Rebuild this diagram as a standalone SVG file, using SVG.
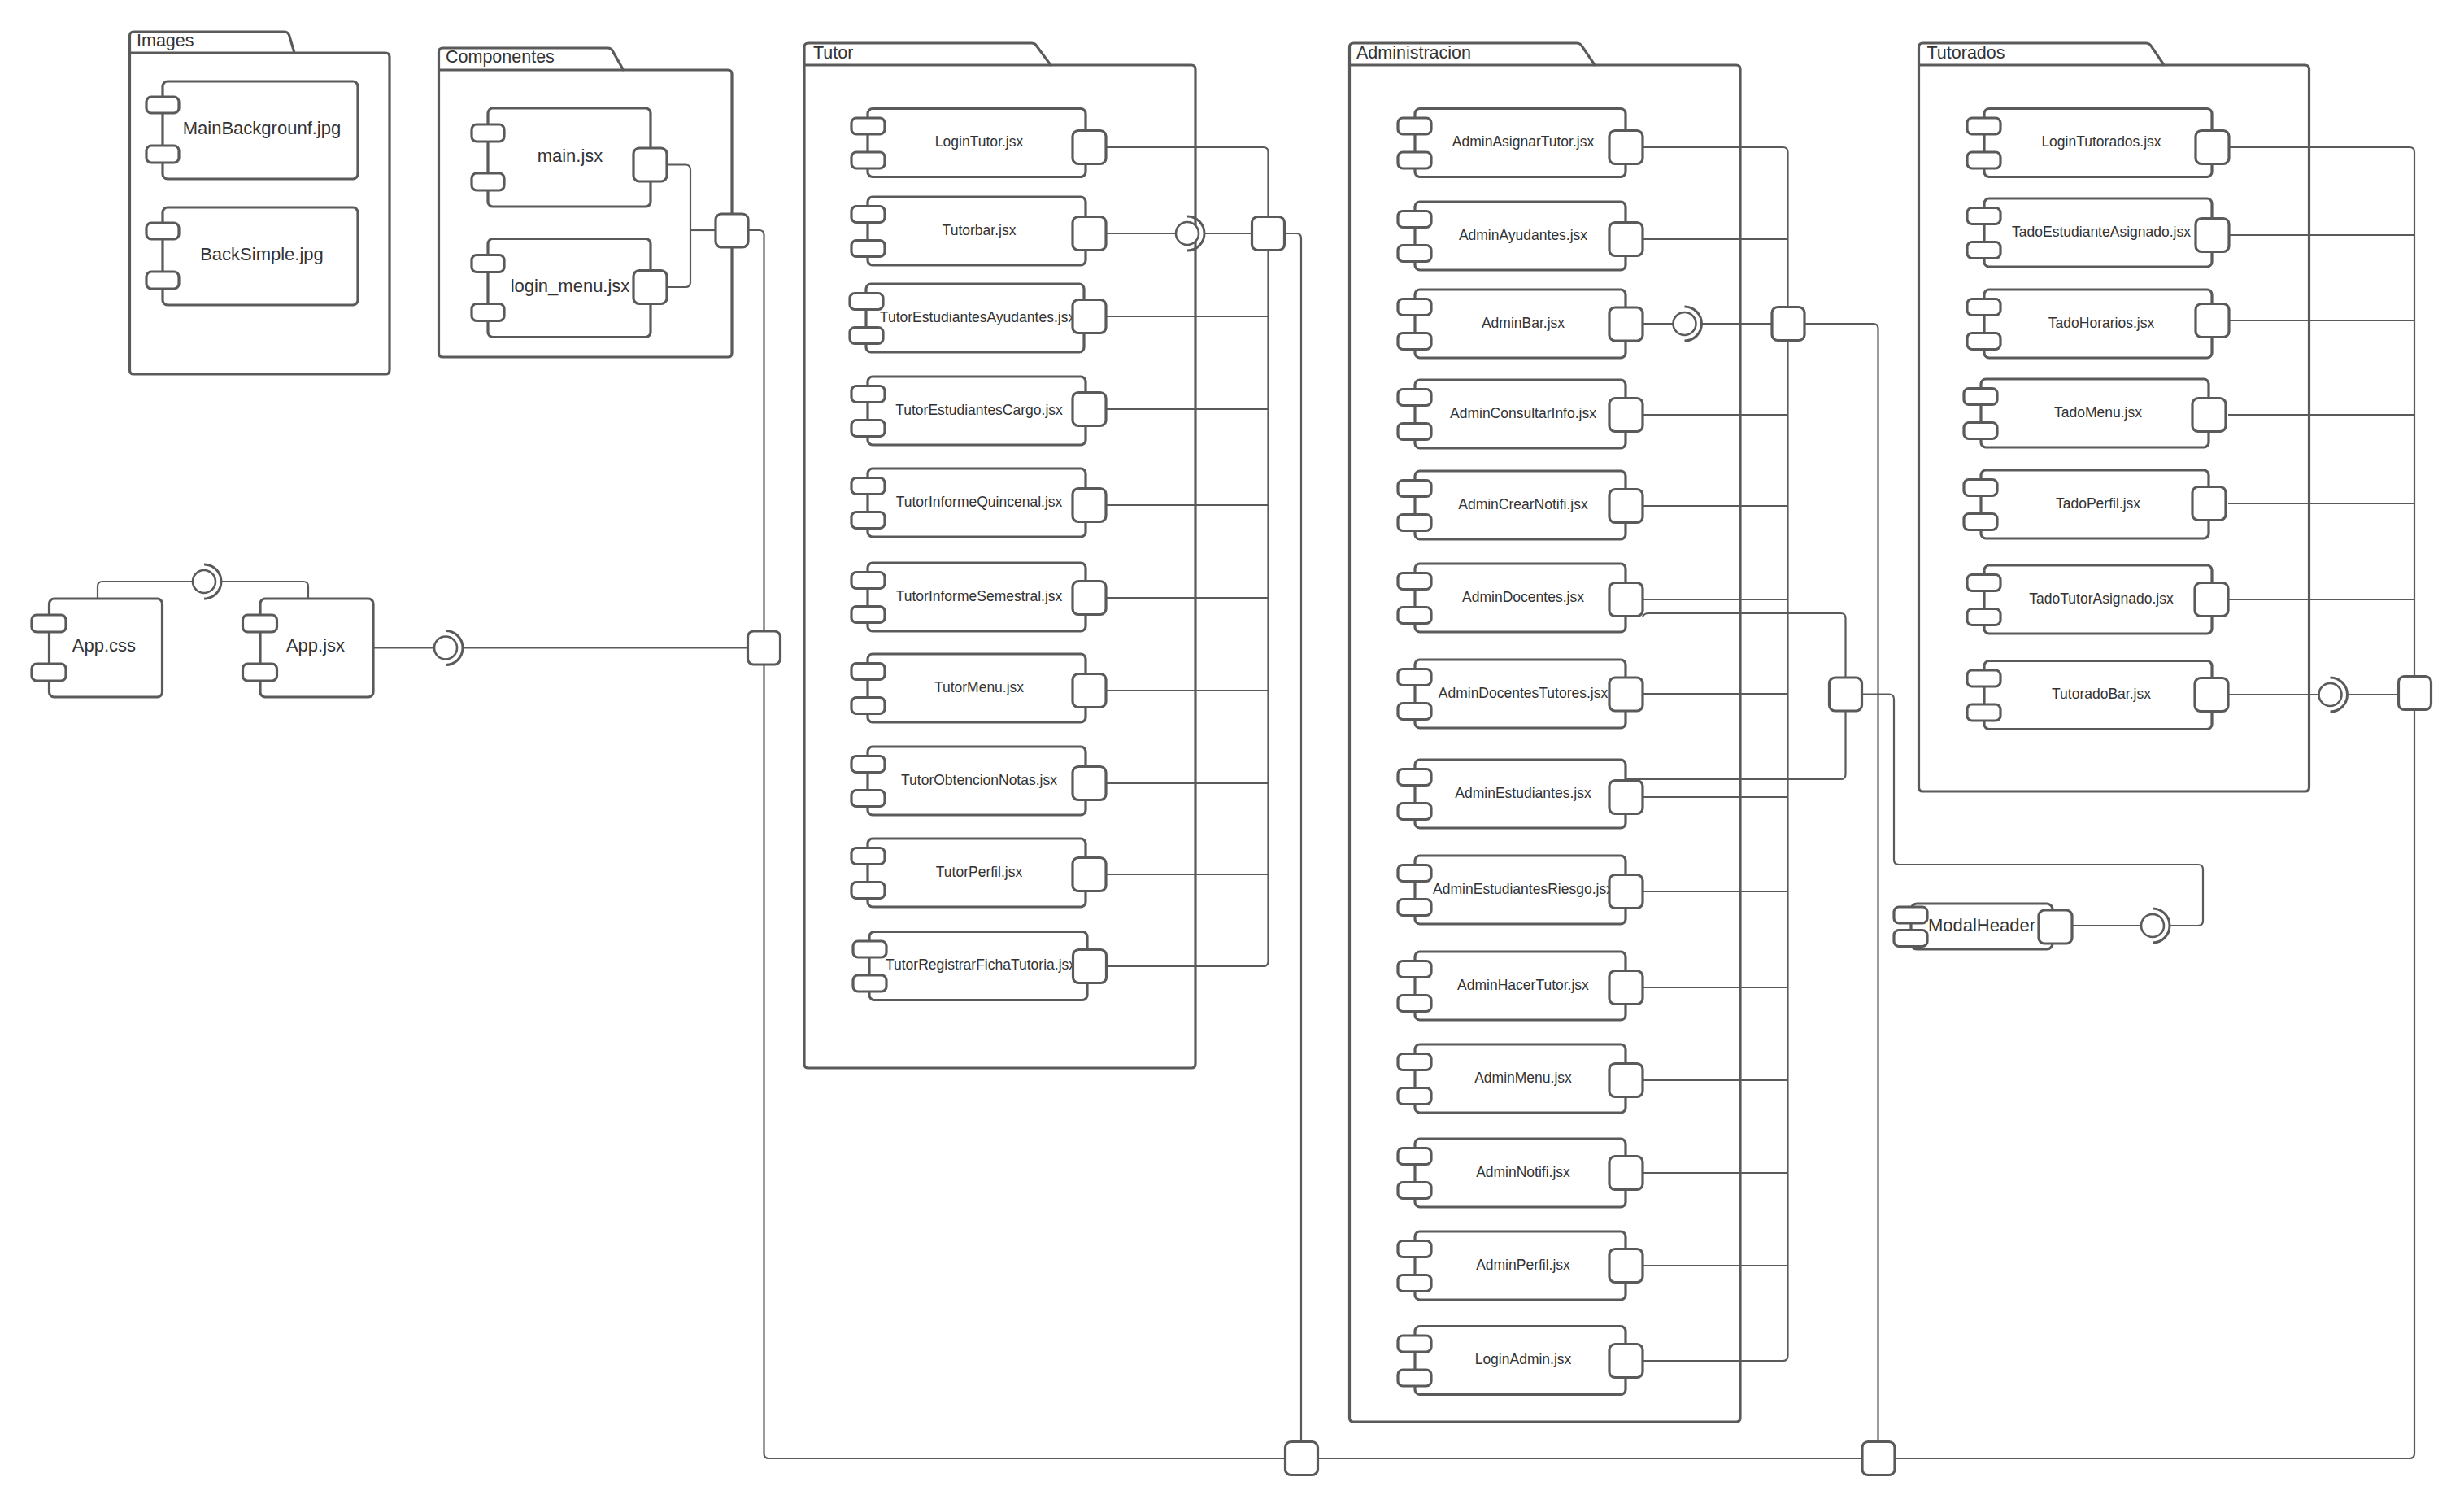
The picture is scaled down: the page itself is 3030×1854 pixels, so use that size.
<svg xmlns="http://www.w3.org/2000/svg" xmlns:xlink="http://www.w3.org/1999/xlink" width="3030" height="1854" viewBox="0 0 3030 1854">
<style>
.s{fill:#fff;stroke:#5a5a5a;stroke-width:3.2}
.c{fill:none;stroke:#5a5a5a;stroke-width:2.2}
.t{font-family:"Liberation Sans",Arial,sans-serif;fill:#333;text-anchor:middle}
.f17{font-size:17.5px}
.f22{font-size:22px}
.lbl{font-family:"Liberation Sans",Arial,sans-serif;fill:#333;font-size:21.5px}
</style>
<defs>
<!-- component bodies: origin at body left edge, vertical centre -->
<g id="bT" class="s"><rect x="0" y="-42" width="268" height="84" rx="6"/><rect x="-20" y="-30.5" width="41" height="20" rx="6"/><rect x="-20" y="11.5" width="41" height="20" rx="6"/></g>
<g id="bA" class="s"><rect x="0" y="-42" width="259" height="84" rx="6"/><rect x="-21" y="-30.5" width="41" height="20" rx="6"/><rect x="-21" y="11.5" width="41" height="20" rx="6"/></g>
<g id="bD" class="s"><rect x="0" y="-42" width="280" height="84" rx="6"/><rect x="-21" y="-30.5" width="41" height="20" rx="6"/><rect x="-21" y="11.5" width="41" height="20" rx="6"/></g>
<g id="bI" class="s"><rect x="0" y="-60" width="240" height="120" rx="6"/><rect x="-20" y="-41" width="40" height="20" rx="6"/><rect x="-20" y="19" width="40" height="21" rx="6"/></g>
<g id="bC" class="s"><rect x="0" y="-60.5" width="200" height="121" rx="6"/><rect x="-20" y="-40.5" width="40" height="21" rx="6"/><rect x="-20" y="19.5" width="40" height="21" rx="6"/></g>
<g id="bP" class="s"><rect x="0" y="-60.5" width="139" height="121" rx="6"/><rect x="-21.5" y="-40.5" width="42" height="21" rx="6"/><rect x="-21.5" y="19.5" width="42" height="21" rx="6"/></g>
<!-- port / hub square, origin at left edge, vertical centre -->
<rect id="pt" class="s" x="0" y="-20.5" width="41" height="41" rx="7"/>
<rect id="hb" class="s" x="0" y="-20.5" width="40" height="41" rx="7"/>
<!-- provided/required interface: ball + socket, origin at ball centre -->
<g id="ifc"><circle class="s" cx="0" cy="0" r="14" style="stroke-width:2.6"/><path class="c" d="M0,-21 A21,21 0 0 1 0,21" style="stroke-width:3"/></g>
</defs>

<g id="packages">
<g id="pkg-images"><path class="s" d="M159.5,455 V44 Q159.5,39 164.5,39 H349 Q354,39 355.5,43 L362,65 H474 Q479,65 479,70 V455 Q479,460 474,460 H164.5 Q159.5,460 159.5,455 Z"/><path class="c" style="stroke-width:3.2" d="M159.5,65 H362"/><text class="lbl" x="168" y="57">Images</text></g>
<g id="pkg-componentes"><path class="s" d="M539.5,434 V64 Q539.5,59 544.5,59 H747 Q752,59 753.5,63 L766.5,86 H895 Q900,86 900,91 V434 Q900,439 895,439 H544.5 Q539.5,439 539.5,434 Z"/><path class="c" style="stroke-width:3.2" d="M539.5,86 H766.5"/><text class="lbl" x="548" y="77">Componentes</text></g>
<g id="pkg-tutor"><path class="s" d="M989,1308 V58 Q989,53 994,53 H1268 Q1273,53 1275,57 L1292,80 H1465 Q1470,80 1470,85 V1308 Q1470,1313 1465,1313 H994 Q989,1313 989,1308 Z"/><path class="c" style="stroke-width:3.2" d="M989,80 H1292"/><text class="lbl" x="1000" y="71.5">Tutor</text></g>
<g id="pkg-admin"><path class="s" d="M1659.5,1743 V58 Q1659.5,53 1664.5,53 H1938.5 Q1943.5,53 1945.5,57 L1961,80 H2135 Q2140,80 2140,85 V1743 Q2140,1748 2135,1748 H1664.5 Q1659.5,1748 1659.5,1743 Z"/><path class="c" style="stroke-width:3.2" d="M1659.5,80 H1961"/><text class="lbl" x="1668" y="71.5">Administracion</text></g>
<g id="pkg-tutorados"><path class="s" d="M2359.5,968 V58 Q2359.5,53 2364.5,53 H2638.5 Q2643.5,53 2645.5,57 L2661,80 H2834.5 Q2839.5,80 2839.5,85 V968 Q2839.5,973 2834.5,973 H2364.5 Q2359.5,973 2359.5,968 Z"/><path class="c" style="stroke-width:3.2" d="M2359.5,80 H2661"/><text class="lbl" x="2369.5" y="71.5">Tutorados</text></g>
</g>

<g id="connectors" class="c">
<!-- Componentes -->
<path d="M820,202.5 H843 Q849,202.5 849,208.5 V347 Q849,353 843,353 H820"/>
<path d="M849,283 H880"/>
<!-- main backbone: left spine, bottom rail, Tutorados bus -->
<path d="M920,283 H933.5 Q939.5,283 939.5,289 V1787 Q939.5,1793 945.5,1793 H2963 Q2969,1793 2969,1787 V187 Q2969,181 2963,181 H2740"/>
<!-- App -->
<path d="M120,736 V721 Q120,715 126,715 H237"/>
<path d="M272,715 H373 Q379,715 379,721 V736"/>
<path d="M459,796.5 H534"/>
<path d="M569,796.5 H920"/>
<!-- Tutor bus -->
<path d="M1360,181 H1553.5 Q1559.5,181 1559.5,187 V1182 Q1559.5,1188 1553.5,1188 H1360"/>
<path d="M1360,389 H1559.5 M1360,503 H1559.5 M1360,621 H1559.5 M1360,735 H1559.5 M1360,849 H1559.5 M1360,963 H1559.5 M1360,1075 H1559.5"/>
<path d="M1360,287 H1446 M1481,287 H1539"/>
<path d="M1580,287 H1594 Q1600,287 1600,293 V1772.5"/>
<!-- Administracion bus -->
<path d="M2020,181 H2192.5 Q2198.5,181 2198.5,187 V1667 Q2198.5,1673 2192.5,1673 H2020"/>
<path d="M2020,294 H2198.5 M2020,510 H2198.5 M2020,622 H2198.5 M2020,737 H2198.5 M2020,853 H2198.5 M2020,980 H2198.5 M2020,1096 H2198.5 M2020,1214 H2198.5 M2020,1328 H2198.5 M2020,1442 H2198.5 M2020,1556 H2198.5"/>
<path d="M2020,398 H2057.5 M2092.5,398 H2179"/>
<path d="M2219,398 H2303.5 Q2309.5,398 2309.5,404 V1772.5"/>
<!-- AdminDocentes / AdminEstudiantes hub and ModalHeader -->
<path d="M2020,758 Q2022,754 2027,754 H2263.5 Q2269.5,754 2269.5,760 V833"/>
<path d="M2269.5,874 V952 Q2269.5,958 2263.5,958 H2000"/>
<path d="M2289.5,853.5 H2323 Q2329,853.5 2329,859.5 V1057 Q2329,1063 2335,1063 H2703 Q2709,1063 2709,1069 V1132 Q2709,1138 2703,1138 H2668"/>
<path d="M2548,1138 H2633"/>
<!-- Tutorados -->
<path d="M2740,289 H2969 M2740,394 H2969 M2740,510 H2969 M2740,619 H2969 M2740,737 H2969"/>
<path d="M2740,854 H2851.5 M2886.5,854 H2949"/>
</g>

<g id="nodes">
<g id="n-mainbackgrounf"><use href="#bI" x="200" y="160"/><text class="t f22" x="322" y="165">MainBackgrounf.jpg</text></g>
<g id="n-backsimple"><use href="#bI" x="200" y="315"/><text class="t f22" x="322" y="320">BackSimple.jpg</text></g>
<g id="n-main"><use href="#bC" x="600" y="193.5"/><text class="t f22" x="701" y="198.5">main.jsx</text><use href="#pt" x="779" y="202.5"/></g>
<g id="n-loginmenu"><use href="#bC" x="600" y="354"/><text class="t f22" x="701" y="359">login_menu.jsx</text><use href="#pt" x="779" y="353"/></g>
<g id="hub-componentes"><use href="#hb" x="880" y="283.5"/></g>

<g id="n-appcss"><use href="#bP" x="60.5" y="796.5"/><text class="t f22" x="128" y="801">App.css</text></g>
<g id="n-appjsx"><use href="#bP" x="320" y="796.5"/><text class="t f22" x="388" y="801">App.jsx</text></g>
<g id="if-appcss"><use href="#ifc" x="251" y="715"/></g>
<g id="if-appjsx"><use href="#ifc" x="548" y="796.5"/></g>
<g id="hub-app"><use href="#hb" x="919.5" y="796.5"/></g>

<g id="n-logintutor"><use href="#bT" x="1067" y="175.5"/><text class="t f17" x="1204" y="180">LoginTutor.jsx</text><use href="#pt" x="1319" y="181"/></g>
<g id="n-tutorbar"><use href="#bT" x="1067" y="284"/><text class="t f17" x="1204" y="288.5">Tutorbar.jsx</text><use href="#pt" x="1319" y="287"/></g>
<g id="n-tutorestayud"><use href="#bT" x="1065" y="391"/><text class="t f17" x="1202" y="395.5">TutorEstudiantesAyudantes.jsx</text><use href="#pt" x="1319" y="389"/></g>
<g id="n-tutorestcargo"><use href="#bT" x="1067" y="505"/><text class="t f17" x="1204" y="509.5">TutorEstudiantesCargo.jsx</text><use href="#pt" x="1319" y="503"/></g>
<g id="n-tutorquincenal"><use href="#bT" x="1067" y="618"/><text class="t f17" x="1204" y="622.5">TutorInformeQuincenal.jsx</text><use href="#pt" x="1319" y="621"/></g>
<g id="n-tutorsemestral"><use href="#bT" x="1067" y="734"/><text class="t f17" x="1204" y="738.5">TutorInformeSemestral.jsx</text><use href="#pt" x="1319" y="735"/></g>
<g id="n-tutormenu"><use href="#bT" x="1067" y="846"/><text class="t f17" x="1204" y="850.5">TutorMenu.jsx</text><use href="#pt" x="1319" y="849"/></g>
<g id="n-tutornotas"><use href="#bT" x="1067" y="960"/><text class="t f17" x="1204" y="964.5">TutorObtencionNotas.jsx</text><use href="#pt" x="1319" y="963"/></g>
<g id="n-tutorperfil"><use href="#bT" x="1067" y="1073"/><text class="t f17" x="1204" y="1077.5">TutorPerfil.jsx</text><use href="#pt" x="1319" y="1075"/></g>
<g id="n-tutorficha"><use href="#bT" x="1069" y="1187.5"/><text class="t f17" x="1206" y="1192">TutorRegistrarFichaTutoria.jsx</text><use href="#pt" x="1319.5" y="1188"/></g>
<g id="if-tutorbar"><use href="#ifc" x="1460" y="287"/></g>
<g id="hub-tutor"><use href="#hb" x="1539.5" y="287"/></g>

<g id="n-adminasignar"><use href="#bA" x="1740" y="175.5"/><text class="t f17" x="1873" y="180">AdminAsignarTutor.jsx</text><use href="#pt" x="1979" y="181"/></g>
<g id="n-adminayud"><use href="#bA" x="1740" y="290"/><text class="t f17" x="1873" y="294.5">AdminAyudantes.jsx</text><use href="#pt" x="1979" y="294"/></g>
<g id="n-adminbar"><use href="#bA" x="1740" y="398"/><text class="t f17" x="1873" y="402.5">AdminBar.jsx</text><use href="#pt" x="1979" y="398.5"/></g>
<g id="n-adminconsultar"><use href="#bA" x="1740" y="509"/><text class="t f17" x="1873" y="513.5">AdminConsultarInfo.jsx</text><use href="#pt" x="1979" y="510"/></g>
<g id="n-admincrear"><use href="#bA" x="1740" y="621"/><text class="t f17" x="1873" y="625.5">AdminCrearNotifi.jsx</text><use href="#pt" x="1979" y="622"/></g>
<g id="n-admindocentes"><use href="#bA" x="1740" y="735"/><text class="t f17" x="1873" y="739.5">AdminDocentes.jsx</text><use href="#pt" x="1979" y="737"/></g>
<g id="n-admindoctut"><use href="#bA" x="1740" y="853"/><text class="t f17" x="1873" y="857.5">AdminDocentesTutores.jsx</text><use href="#pt" x="1979" y="853.5"/></g>
<g id="n-adminestudiantes"><use href="#bA" x="1740" y="976"/><text class="t f17" x="1873" y="980.5">AdminEstudiantes.jsx</text><use href="#pt" x="1979" y="980"/></g>
<g id="n-adminriesgo"><use href="#bA" x="1740" y="1094"/><text class="t f17" x="1873" y="1098.5">AdminEstudiantesRiesgo.jsx</text><use href="#pt" x="1979" y="1096"/></g>
<g id="n-adminhacer"><use href="#bA" x="1740" y="1212"/><text class="t f17" x="1873" y="1216.5">AdminHacerTutor.jsx</text><use href="#pt" x="1979" y="1214"/></g>
<g id="n-adminmenu"><use href="#bA" x="1740" y="1326"/><text class="t f17" x="1873" y="1330.5">AdminMenu.jsx</text><use href="#pt" x="1979" y="1328"/></g>
<g id="n-adminnotifi"><use href="#bA" x="1740" y="1442"/><text class="t f17" x="1873" y="1446.5">AdminNotifi.jsx</text><use href="#pt" x="1979" y="1442"/></g>
<g id="n-adminperfil"><use href="#bA" x="1740" y="1556"/><text class="t f17" x="1873" y="1560.5">AdminPerfil.jsx</text><use href="#pt" x="1979" y="1556"/></g>
<g id="n-loginadmin"><use href="#bA" x="1740" y="1672.5"/><text class="t f17" x="1873" y="1677">LoginAdmin.jsx</text><use href="#pt" x="1979" y="1673"/></g>
<g id="if-adminbar"><use href="#ifc" x="2071.5" y="398"/></g>
<g id="hub-admin"><use href="#hb" x="2179" y="398"/></g>
<g id="hub-docentes"><use href="#hb" x="2249.5" y="853.5"/></g>

<g id="n-modalheader"><rect class="s" x="2350" y="1111" width="174" height="56" rx="7"/><rect class="s" x="2329" y="1115" width="41" height="20" rx="6"/><rect class="s" x="2329" y="1143.5" width="41" height="20" rx="6"/><text class="t f22" x="2437" y="1145">ModalHeader</text><use href="#pt" x="2507" y="1139.5"/></g>
<g id="if-modalheader"><use href="#ifc" x="2647" y="1138"/></g>

<g id="n-logintutorados"><use href="#bD" x="2440" y="175.5"/><text class="t f17" x="2584" y="180">LoginTutorados.jsx</text><use href="#pt" x="2700" y="181"/></g>
<g id="n-tadoestudiante"><use href="#bD" x="2440" y="286"/><text class="t f17" x="2584" y="290.5">TadoEstudianteAsignado.jsx</text><use href="#pt" x="2700" y="289"/></g>
<g id="n-tadohorarios"><use href="#bD" x="2440" y="398"/><text class="t f17" x="2584" y="402.5">TadoHorarios.jsx</text><use href="#pt" x="2700" y="394"/></g>
<g id="n-tadomenu"><use href="#bD" x="2436" y="508"/><text class="t f17" x="2580" y="512.5">TadoMenu.jsx</text><use href="#pt" x="2696" y="510"/></g>
<g id="n-tadoperfil"><use href="#bD" x="2436" y="620"/><text class="t f17" x="2580" y="624.5">TadoPerfil.jsx</text><use href="#pt" x="2696" y="619"/></g>
<g id="n-tadotutor"><use href="#bD" x="2440" y="737"/><text class="t f17" x="2584" y="741.5">TadoTutorAsignado.jsx</text><use href="#pt" x="2699" y="737"/></g>
<g id="n-tutoradobar"><use href="#bD" x="2440" y="854.5"/><text class="t f17" x="2584" y="859">TutoradoBar.jsx</text><use href="#pt" x="2699" y="854"/></g>
<g id="if-tutoradobar"><use href="#ifc" x="2865.5" y="854"/></g>
<g id="hub-tutorados"><use href="#hb" x="2949.5" y="852"/></g>

<g id="hub-bottom-tutor"><use href="#hb" x="1580.5" y="1793"/></g>
<g id="hub-bottom-admin"><use href="#hb" x="2290" y="1793"/></g>
</g>
</svg>
